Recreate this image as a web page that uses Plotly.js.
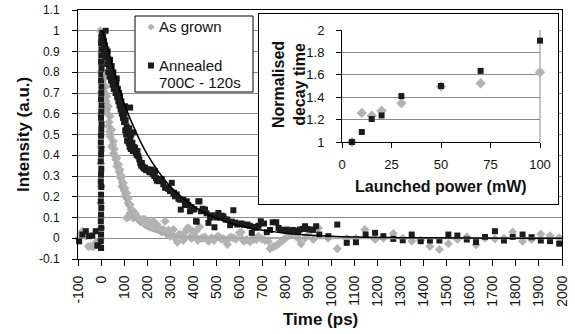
<!DOCTYPE html>
<html>
<head>
<meta charset="utf-8">
<script src="https://cdn.plot.ly/plotly-3.0.1.min.js"></script>
<style>
  html, body { margin: 0; padding: 0; background: #fff; }
  #wrap { position: relative; width: 575px; height: 334px; overflow: hidden; }
  #main { position: absolute; left: 0; top: 0; width: 575px; height: 334px; }
  #inset { position: absolute; left: 258px; top: 13px; width: 301px; height: 192px;
           box-sizing: border-box; border: 1px solid #000; background: #fff; }
</style>
</head>
<body>
<div id="wrap">
  <div id="main"></div>
  <div id="inset"></div>
</div>
<script>
// ---- Time-resolved photoluminescence (ps, normalised intensity) ----
const timeGrown = [
  -98, -88, -81, -74, -66, -55, -45, -33, -22, -12, -5,
  0, 0, 0, -1, 0, -1, 0, 0, -1, 0, -1, 0, -4,
  3, 5, 8, 11, 14, 17, 20, 22, 25, 25, 28, 32, 32, 35, 37, 39, 39, 42, 46, 46, 50, 53, 55, 58,
  61, 64, 68, 68, 72, 75, 78, 82, 82, 86, 90, 90, 93, 97, 100, 104, 104, 108, 111, 111, 115,
  118, 118, 122, 122, 126, 126, 130, 133, 137, 140, 144, 148, 155, 162, 169, 177, 184, 191,
  198, 205, 213, 220, 227, 235, 242, 249, 256, 263, 271, 278, 285, 292, 299, 306, 314, 321,
  331, 340, 350, 357, 365, 372, 379, 386, 393, 398, 408, 412, 420, 427, 435, 444, 452, 466,
  473, 480, 490, 499, 506, 514, 523, 531, 540, 548, 556, 563, 574, 585, 600, 608, 615, 620,
  632, 646, 655, 664, 675, 682, 697, 711, 726, 733, 743, 752, 762, 772, 784, 795, 806, 816,
  827, 835, 846, 855, 868, 885, 899, 921, 943, 985, 1025, 1066, 1106, 1145, 1189, 1225, 1268,
  1309, 1348, 1387, 1427, 1468, 1507, 1546, 1587, 1627, 1666, 1709, 1748, 1786, 1829, 1868,
  1908, 1948, 1988
];
const intGrown = [
  0.0, 0.02, 0.034, 0.029, 0.01, -0.039, -0.04, -0.041, -0.02, -0.03, -0.01,
  0.0, 0.05, 0.1, 0.17, 0.25, 0.36, 0.44, 0.5, 0.6, 0.7, 0.8, 0.9, 1.0,
  0.95, 0.9, 0.84, 0.8, 0.77, 0.7, 0.73, 0.66, 0.684, 0.62, 0.6, 0.636, 0.54, 0.56, 0.515, 0.588, 0.49, 0.5, 0.523, 0.44, 0.45, 0.467, 0.41, 0.43,
  0.395, 0.38, 0.387, 0.347, 0.36, 0.354, 0.32, 0.33, 0.298, 0.29, 0.298, 0.25, 0.27, 0.265, 0.23, 0.241, 0.202, 0.22, 0.217, 0.098, 0.19,
  0.193, 0.17, 0.103, 0.16, 0.161, 0.121, 0.14, 0.137, 0.11, 0.098, 0.125, 0.121, 0.1, 0.098, 0.082, 0.09, 0.09, 0.09,
  0.07, 0.082, 0.06, 0.074, 0.082, 0.05, 0.066, 0.04, 0.045, 0.03, 0.042, 0.082, 0.02, 0.04, 0.01, 0.023, 0.042, 0.0,
  -0.019, 0.02, 0.013, -0.01, 0.03, 0.045, 0.05, 0.005, 0.0, 0.034, 0.01, 0.034, -0.01, 0.055, 0.0, 0.002, 0.005, -0.014,
  -0.005, 0.002, -0.01, 0.002, 0.01, 0.006, -0.006, -0.002, -0.01, -0.03, 0.0, 0.006, 0.002, -0.005, 0.026, 0.029, -0.006, -0.014,
  -0.006, -0.017, -0.006, -0.006, -0.006, 0.01, -0.003, -0.01, -0.014, -0.05, -0.043, -0.04, -0.034, -0.025, -0.014, -0.005, 0.008, 0.015,
  0.021, 0.034, 0.01, 0.0, -0.027, 0.0, 0.018, -0.006, 0.05, 0.0, -0.05, 0.0, 0.0, 0.042, -0.006, 0.0, 0.023,
  0.0, -0.014, -0.01, -0.04, -0.054, -0.026, -0.005, 0.006, -0.032, 0.0, -0.003, 0.0, 0.03, -0.014, -0.006,
  0.02, 0.012, 0.002
];

const timeAnnealed = [
  -95, -81, -66, -52, -38, -23, -16, -12,
  0, -1, 0, 1, -1, 0, 1, -1, 0, 1, -1, 0, 1, -1, 0, 1, -1, 0,
  1, 2, 0, 1, 2, 0, 1, 2, 0, 1, 2, 0, 1, 2, 0, 1,
  5, 7, 9, 11, 13, 15, 17, 20, 21, 23, 25, 27, 29, 31, 33, 35, 37, 39, 41, 43, 46, 48, 50, 53,
  55, 58, 61, 63, 66, 68, 70, 73, 75, 78, 80, 82, 85, 88, 90, 93, 95, 97, 100, 102, 104, 105,
  107, 109, 111, 113, 115, 118, 120, 122, 124, 126, 127, 129, 131, 133, 136, 138, 140, 142, 145,
  148, 151, 155, 158, 162, 166, 170, 174, 177, 181, 184, 188, 191, 195, 198, 202, 205, 209, 213,
  216, 220, 224, 227, 231, 234, 238, 242, 245, 249, 256, 263, 270, 278, 285, 292, 299, 307, 314,
  317, 321, 328, 336, 343, 346, 357, 364, 372, 379, 386, 393, 398, 405, 412, 415, 422, 427, 434,
  441, 451, 458, 466, 473, 480, 486, 492, 500, 509, 516, 523, 531, 540, 548, 560, 567, 574, 582,
  591, 600, 610, 620, 635, 645, 654, 663, 672, 683, 693, 707, 719, 733, 745, 760, 770, 777, 791,
  806, 820, 833, 846, 855, 863, 875, 885, 896, 907, 920, 933, 947, 986, 1025, 1066, 1106, 1148,
  1189, 1225, 1268, 1309, 1348, 1387, 1427, 1468, 1507, 1546, 1587, 1627, 1666, 1709, 1748, 1786,
  1829, 1868, 1908, 1948, 1988
];
const intAnnealed = [
  -0.015, 0.018, 0.034, 0.01, 0.013, 0.034, -0.035, -0.035,
  -0.047, -0.014, 0.018, 0.05, 0.082, 0.114, 0.146, 0.178, 0.21, 0.247, 0.274, 0.306, 0.334, 0.371, 0.403, 0.43, 0.462, 0.494,
  0.523, 0.55, 0.58, 0.61, 0.64, 0.67, 0.7, 0.73, 0.76, 0.79, 0.82, 0.85, 0.88, 0.91, 0.94, 0.97,
  0.99, 0.95, 0.97, 0.92, 0.95, 0.89, 0.93, 1.0, 0.87, 0.91, 0.88, 0.84, 0.9, 0.8, 0.86, 0.83, 0.78, 0.86, 0.8, 0.76, 0.83, 0.78, 0.74, 0.8,
  0.72, 0.77, 0.74, 0.7, 0.75, 0.77, 0.68, 0.72, 0.66, 0.7, 0.64, 0.685, 0.62, 0.66, 0.6, 0.63, 0.58, 0.62, 0.56, 0.6, 0.636, 0.52,
  0.57, 0.5, 0.54, 0.47, 0.52, 0.5, 0.46, 0.53, 0.44, 0.63, 0.48, 0.43, 0.5, 0.443, 0.46, 0.42, 0.51, 0.44, 0.43,
  0.436, 0.41, 0.4, 0.42, 0.395, 0.38, 0.363, 0.35, 0.363, 0.345, 0.34, 0.335, 0.34, 0.33, 0.328, 0.33, 0.331, 0.32, 0.318,
  0.32, 0.331, 0.31, 0.315, 0.3, 0.323, 0.29, 0.278, 0.283, 0.275, 0.28, 0.286, 0.26, 0.243, 0.245, 0.238, 0.227, 0.267, 0.215,
  0.219, 0.202, 0.211, 0.19, 0.186, 0.138, 0.186, 0.16, 0.178, 0.16, 0.13, 0.15, 0.138, 0.14, 0.082, 0.08, 0.178, 0.178, 0.13,
  0.142, 0.138, 0.12, 0.074, 0.1, 0.109, 0.11, 0.053, 0.1, 0.122, 0.1, 0.109, 0.105, 0.09, 0.09, 0.063, 0.08, 0.135, 0.075,
  0.066, 0.07, 0.071, 0.065, 0.066, 0.06, 0.026, 0.055, 0.05, 0.06, 0.082, 0.071, 0.029, 0.04, 0.077, 0.077, 0.05, 0.042, 0.039,
  0.042, 0.034, 0.04, 0.037, 0.03, 0.042, 0.045, 0.058, 0.045, 0.042, 0.04, 0.058, 0.018, 0.01, 0.066, -0.022, -0.019, 0.018,
  0.026, 0.01, -0.003, -0.01, 0.018, -0.014, -0.011, -0.011, 0.018, 0.013, -0.006, -0.018, 0.006, 0.034, -0.011, 0.006,
  0.018, 0.005, -0.011, -0.014, -0.026
];

// Single-exponential fit curves
const fitTimeGrown = [12, 20, 30, 40, 50, 60, 70, 80, 90, 100, 120, 140, 160, 180, 200, 230, 260, 300, 350, 400, 500, 700, 1000, 1500, 2000];
const fitGrown     = [0.8, 0.73, 0.62, 0.53, 0.45, 0.385, 0.33, 0.28, 0.24, 0.205, 0.15, 0.105, 0.078, 0.06, 0.047, 0.033, 0.024, 0.015, 0.009, 0.006, 0.003, 0.001, 0.0, 0.0, 0.0];
const fitTimeAnnealed = [5, 25, 50, 75, 100, 150, 200, 250, 300, 400, 500, 600, 800, 1000, 1300, 1600, 2000];
const fitAnnealed     = [1.0, 0.93, 0.83, 0.735, 0.65, 0.515, 0.405, 0.32, 0.25, 0.155, 0.097, 0.06, 0.024, 0.01, 0.003, 0.001, 0.0];

// ---- Inset: normalised decay time versus launched power ----
const power = [5, 10, 15, 20, 30, 50, 70, 100];
const decayGrown = [1.0, 1.26, 1.234, 1.279, 1.347, 1.495, 1.525, 1.623];
const decayAnnealed = [1.0, 1.089, 1.205, 1.237, 1.41, 1.5, 1.635, 1.905];

// ---- Tick labels ----
const xTickVals = [-100, 0, 100, 200, 300, 400, 500, 600, 700, 800, 900, 1000, 1100, 1200, 1300, 1400, 1500, 1600, 1700, 1800, 1900, 2000];
const xTickText = ['-100', '0', '100', '200', '300', '400', '500', '600', '700', '800', '900', '1000', '1100', '1200', '1300', '1400', '1500', '1600', '1700', '1800', '1900', '2000'];
const yTickVals = [1.1, 1.0, 0.9, 0.8, 0.7, 0.6, 0.5, 0.4, 0.3, 0.2, 0.1, 0.0, -0.1];
const yTickText = ['1.1', '1', '0.9', '0.8', '0.7', '0.6', '0.5', '0.4', '0.3', '0.2', '0.1', '0', '-0.1'];
const insetXTickVals = [0, 25, 50, 75, 100];
const insetYTickVals = [1, 1.2, 1.4, 1.6, 1.8, 2];
const insetYTickText = ['1', '1.2', '1.4', '1.6', '1.8', '2'];

const GREY = '#b3b3b3';
const GREY_LINE = '#a9a9a9';
const DARK = '#1c1c1c';
const FONT = 'Liberation Sans, Arial, Helvetica, sans-serif';

// ---------- main decay plot ----------
const mainTraces = [
  { type: 'scatter', mode: 'markers', name: 'As grown', x: timeGrown, y: intGrown, cliponaxis: false,
    marker: { symbol: 'diamond', size: 7, color: GREY, line: { width: 0 } } },
  { type: 'scatter', mode: 'markers', name: 'Annealed 700C - 120s', x: timeAnnealed, y: intAnnealed, cliponaxis: false,
    marker: { symbol: 'square', size: 6, color: DARK, line: { width: 0 } } },
  { type: 'scatter', mode: 'lines', x: fitTimeGrown, y: fitGrown, line: { color: GREY_LINE, width: 2, shape: 'spline' }, hoverinfo: 'skip' },
  { type: 'scatter', mode: 'lines', x: fitTimeAnnealed, y: fitAnnealed, line: { color: '#000', width: 1.5, shape: 'spline' }, hoverinfo: 'skip' }
];

function px(x) { return (x - 78) / 484; }
function py(y) { return 1 - (y - 10) / 249; }

const mainLayout = {
  width: 575, height: 334,
  margin: { l: 78, r: 13, t: 10, b: 75 },
  paper_bgcolor: '#fff', plot_bgcolor: '#fff',
  showlegend: false,
  font: { family: FONT, color: '#111' },
  xaxis: {
    range: [-100, 2000], tickmode: 'array', tickvals: xTickVals, ticktext: xTickText,
    tickangle: -90, ticks: 'outside', ticklen: 6, tickwidth: 1, tickcolor: '#000',
    showline: true, linecolor: '#000', linewidth: 1, mirror: true,
    showgrid: false, zeroline: false, tickfont: { size: 14, family: FONT, color: '#111' },
    ticklabelstandoff: 4
  },
  yaxis: {
    range: [-0.1, 1.1], tickmode: 'array', tickvals: yTickVals, ticktext: yTickText,
    ticks: 'outside', ticklen: 5, tickwidth: 1, tickcolor: '#000',
    showline: true, linecolor: '#000', linewidth: 1, mirror: true,
    showgrid: true, gridcolor: '#8c8c8c', gridwidth: 1, zeroline: false,
    tickfont: { size: 12, family: FONT, color: '#111' }, ticklabelstandoff: 10
  },
  shapes: [
    // legend frame
    { type: 'rect', xref: 'paper', yref: 'paper', x0: px(135), x1: px(253), y0: py(92), y1: py(16),
      fillcolor: '#fff', line: { color: '#000', width: 1 }, layer: 'above' },
    // legend symbols
    { type: 'path', xref: 'paper', yref: 'paper', xsizemode: 'pixel', ysizemode: 'pixel',
      xanchor: px(151), yanchor: py(27), path: 'M 0 3.6 L 3.6 0 L 0 -3.6 L -3.6 0 Z',
      fillcolor: GREY, line: { width: 0 }, layer: 'above' },
    { type: 'rect', xref: 'paper', yref: 'paper', xsizemode: 'pixel', ysizemode: 'pixel',
      xanchor: px(151), yanchor: py(65.5), x0: -3, x1: 3, y0: -3, y1: 3,
      fillcolor: DARK, line: { width: 0 }, layer: 'above' }
  ],
  annotations: [
    { text: 'As grown', xref: 'paper', yref: 'paper', x: px(157), y: py(27), xanchor: 'left', yanchor: 'middle',
      showarrow: false, font: { size: 15, family: FONT, color: '#111' } },
    { text: 'Annealed', xref: 'paper', yref: 'paper', x: px(157), y: py(65.5), xanchor: 'left', yanchor: 'middle',
      showarrow: false, font: { size: 15, family: FONT, color: '#111' } },
    { text: '700C - 120s', xref: 'paper', yref: 'paper', x: px(157), y: py(82), xanchor: 'left', yanchor: 'middle',
      showarrow: false, font: { size: 15, family: FONT, color: '#111' } },
    { text: '<b>Time (ps)</b>', xref: 'paper', yref: 'paper', x: px(320), y: py(319), xanchor: 'center', yanchor: 'middle',
      showarrow: false, font: { size: 17, family: FONT, color: '#111' } },
    { text: '<b>Intensity (a.u.)</b>', xref: 'paper', yref: 'paper', x: px(23), y: py(135), xanchor: 'center', yanchor: 'middle',
      textangle: -90, showarrow: false, font: { size: 17, family: FONT, color: '#111' } }
  ]
};

Plotly.newPlot('main', mainTraces, mainLayout, { staticPlot: true, displayModeBar: false });

// ---------- inset: decay time vs power ----------
const insetTraces = [
  { type: 'scatter', mode: 'markers', name: 'As grown', x: power, y: decayGrown, cliponaxis: false,
    marker: { symbol: 'diamond', size: 8, color: GREY, line: { width: 0 } } },
  { type: 'scatter', mode: 'markers', name: 'Annealed', x: power, y: decayAnnealed, cliponaxis: false,
    marker: { symbol: 'square', size: 6, color: DARK, line: { width: 0 } } }
];

// inset plot-area mapping (inner div 299 x 190, plot area 198 x 112)
function ix(x) { return (x - 259 - 83) / 198; }
function iy(y) { return 1 - (y - 14 - 16) / 112; }

const insetLayout = {
  width: 299, height: 190,
  margin: { l: 83, r: 18, t: 16, b: 62 },
  paper_bgcolor: '#fff', plot_bgcolor: '#fff',
  showlegend: false,
  font: { family: FONT, color: '#111' },
  xaxis: {
    range: [0, 100], tickmode: 'array', tickvals: insetXTickVals,
    ticks: 'outside', ticklen: 5, tickwidth: 1, tickcolor: '#000',
    showline: true, linecolor: '#000', linewidth: 1,
    showgrid: false, zeroline: false, tickfont: { size: 13, family: FONT, color: '#111' },
    ticklabelstandoff: 5
  },
  yaxis: {
    range: [1, 2], tickmode: 'array', tickvals: insetYTickVals, ticktext: insetYTickText,
    ticks: 'outside', ticklen: 5, tickwidth: 1, tickcolor: '#000',
    showline: true, linecolor: '#000', linewidth: 1,
    showgrid: true, gridcolor: '#8c8c8c', gridwidth: 1, zeroline: false,
    tickfont: { size: 13, family: FONT, color: '#111' }, ticklabelstandoff: 9
  },
  shapes: [
    { type: 'line', xref: 'x domain', yref: 'y domain', x0: 1, x1: 1, y0: 0, y1: 1,
      line: { color: '#8c8c8c', width: 1 }, layer: 'below' }
  ],
  annotations: [
    { text: '<b>Launched power (mW)</b>', xref: 'paper', yref: 'paper', x: ix(441), y: iy(186),
      xanchor: 'center', yanchor: 'middle', showarrow: false, font: { size: 16, family: FONT, color: '#111' } },
    { text: '<b>Normalised</b><br><b>decay time</b>', xref: 'paper', yref: 'paper', x: ix(289), y: iy(85),
      xanchor: 'center', yanchor: 'middle', textangle: -90, showarrow: false,
      font: { size: 16, family: FONT, color: '#111' } }
  ]
};

Plotly.newPlot('inset', insetTraces, insetLayout, { staticPlot: true, displayModeBar: false });
</script>
</body>
</html>
